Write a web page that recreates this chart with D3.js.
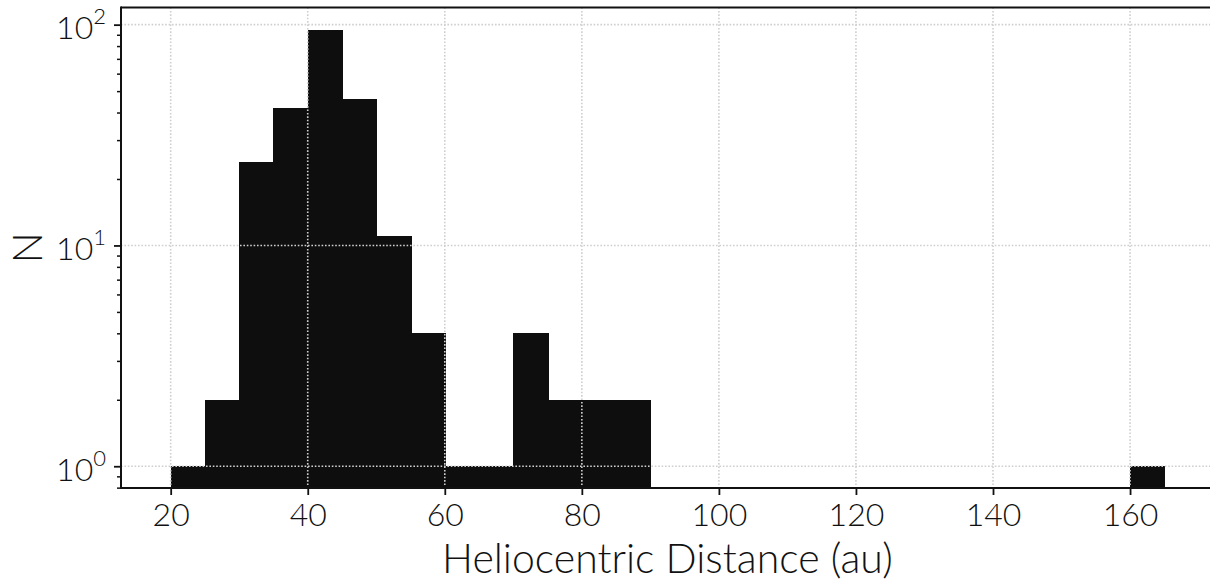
<!DOCTYPE html>
<html>
<head>
<meta charset="utf-8">
<script src="https://cdn.jsdelivr.net/npm/d3@7"></script>
<style>
  html, body { margin: 0; background: #fff; overflow: hidden; }
  svg { display: block; }
  text { font-family: Lato, "Open Sans", sans-serif; font-weight: 300; fill: #111; }
</style>
</head>
<body>
<svg></svg>
<script>
// taille de la figure
var WIDTH = 1210;
var HEIGHT = 583;

// données de l'histogramme (bins de 5 au)
const binStart = [20, 25, 30, 35, 40, 45, 50, 55, 60, 65, 70, 75, 80, 85, 160];
const binEnd   = [25, 30, 35, 40, 45, 50, 55, 60, 65, 70, 75, 80, 85, 90, 165];
const counts   = [1, 2, 24, 42, 95, 46, 11, 4, 1, 1, 4, 2, 2, 2, 1];

// ticks
const xTicks = [20, 40, 60, 80, 100, 120, 140, 160];
const yTicks = [1, 10, 100];
const yExponents = ["0", "1", "2"];

// marges de la zone du graphique
const plotLeft = 121, plotRight = 1214, plotTop = 7.5, plotBottom = 488;

const svg = d3.select('svg')
    .attr('width', WIDTH)
    .attr('height', HEIGHT);

var x = d3.scaleLinear().domain([12.75, 172.25]).range([plotLeft, plotRight]);
var y = d3.scaleLog().domain([0.797, 119.6]).range([plotBottom, plotTop]);

// barres (rendu net pour éviter les joints blancs)
svg.append('g')
  .attr('shape-rendering', 'crispEdges')
  .selectAll('rect')
  .data(counts)
  .enter()
  .append('rect')
  .attr('x', (d, i) => Math.round(x(binStart[i])))
  .attr('width', (d, i) => Math.round(x(binEnd[i])) - Math.round(x(binStart[i])) + 1)
  .attr('y', d => Math.round(y(d)))
  .attr('height', d => plotBottom - Math.round(y(d)))
  .attr('fill', '#0e0e0e');

// grille pointillée (par-dessus les barres)
const grid = svg.append('g')
  .attr('stroke', '#cfcfcf')
  .attr('stroke-width', 1.6)
  .attr('stroke-dasharray', '1.6,1.8');
grid.selectAll('line.gx')
  .data(xTicks)
  .enter()
  .append('line')
  .attr('x1', d => x(d)).attr('x2', d => x(d))
  .attr('y1', plotTop).attr('y2', plotBottom);
grid.selectAll('line.gy')
  .data(yTicks)
  .enter()
  .append('line')
  .attr('x1', plotLeft).attr('x2', plotRight)
  .attr('y1', d => y(d)).attr('y2', d => y(d));

// axe x
const xAxis = svg.append('g')
  .attr('transform', 'translate(0,' + plotBottom + ')')
  .call(d3.axisBottom(x).tickValues(xTicks).tickSize(7).tickPadding(8).tickFormat(d3.format('d')));
xAxis.select('.domain').remove();
xAxis.selectAll('line').attr('stroke', '#111').attr('stroke-width', 1.8);
xAxis.selectAll('text')
  .style('font-size', '32px')
  .attr('fill', '#111');

// axe y : ticks majeurs et mineurs
const minor = [];
[0.1, 1, 10].forEach(dec => {
  for (let k = 2; k <= 9; k++) minor.push(k * dec);
});
const yMinor = minor.filter(v => v >= 0.797 && v <= 119.6);
const yAxisMinor = svg.append('g')
  .attr('transform', 'translate(' + plotLeft + ',0)')
  .call(d3.axisLeft(y).tickValues(yMinor).tickSize(4).tickFormat(''));
yAxisMinor.select('.domain').remove();
yAxisMinor.selectAll('line').attr('stroke', '#111').attr('stroke-width', 1.5);

const yAxis = svg.append('g')
  .attr('transform', 'translate(' + plotLeft + ',0)')
  .call(d3.axisLeft(y).tickValues(yTicks).tickSize(7).tickFormat(''));
yAxis.select('.domain').remove();
yAxis.selectAll('line').attr('stroke', '#111').attr('stroke-width', 1.8);

// étiquettes 10^n
yAxis.selectAll('.tick').append('text')
  .attr('x', -15)
  .attr('y', 14)
  .attr('text-anchor', 'end')
  .style('font-size', '32px')
  .attr('fill', '#111')
  .each(function(d, i) {
    const t = d3.select(this);
    t.append('tspan').text('10');
    t.append('tspan')
      .attr('dy', -15)
      .style('font-size', '22px')
      .text(yExponents[i]);
  });

// cadre : gauche, haut, bas (le côté droit sort de l'image)
const spines = svg.append('g')
  .attr('stroke', '#111')
  .attr('stroke-width', 2);
spines.append('line')
  .attr('x1', plotLeft).attr('x2', plotLeft)
  .attr('y1', plotTop - 1).attr('y2', plotBottom + 1);
spines.append('line')
  .attr('x1', plotLeft).attr('x2', WIDTH)
  .attr('y1', plotTop).attr('y2', plotTop);
spines.append('line')
  .attr('x1', plotLeft).attr('x2', WIDTH)
  .attr('y1', plotBottom).attr('y2', plotBottom);

// titres des axes
svg.append('text')
  .attr('x', (plotLeft + plotRight) / 2)
  .attr('y', 573)
  .attr('text-anchor', 'middle')
  .style('font-size', '41px')
  .text('Heliocentric Distance (au)');

svg.append('text')
  .attr('transform', 'translate(42,' + ((plotTop + plotBottom) / 2) + ') rotate(-90)')
  .attr('text-anchor', 'middle')
  .style('font-size', '41px')
  .text('N');
</script>
</body>
</html>
